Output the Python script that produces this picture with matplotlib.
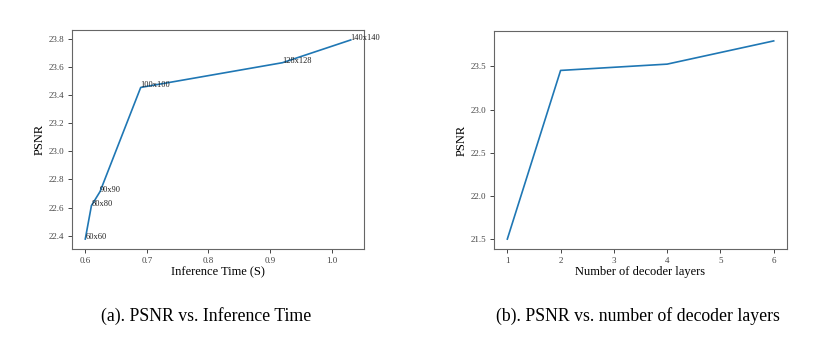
import matplotlib.pyplot as plt

plt.rcParams['font.family'] = ['Liberation Serif', 'DejaVu Serif']

# (a) PSNR vs inference time
inf_time = [0.600, 0.610, 0.624, 0.690, 0.920, 1.031]
psnr_time = [22.376, 22.614, 22.714, 23.455, 23.631, 23.793]
res_labels = ['60x60', '80x80', '90x90', '100x100', '128x128', '140x140']

# (b) PSNR vs decoder layers
layers = [1, 2, 4, 6]
psnr_layers = [21.5, 23.454, 23.527, 23.796]

W, H = 831, 340
fig = plt.figure(figsize=(W / 100, H / 100), dpi=100)

ax1 = fig.add_axes([72 / W, 91 / H, 292 / W, 219 / H])
ax2 = fig.add_axes([494 / W, 91 / H, 293 / W, 218 / H])

ax1.plot(inf_time, psnr_time, color='#1f77b4', lw=1.2)
for x, y, s in zip(inf_time, psnr_time, res_labels):
    ax1.text(x, y, s, fontsize=6, color='#222222', clip_on=False)
ax1.set_xticks([0.6, 0.7, 0.8, 0.9, 1.0])
ax1.set_yticks([22.4, 22.6, 22.8, 23.0, 23.2, 23.4, 23.6, 23.8])
ax1.set_xlabel('Inference Time (S)', fontsize=9, labelpad=1)
ax1.set_ylabel('PSNR', fontsize=9, labelpad=2)

ax2.plot(layers, psnr_layers, color='#1f77b4', lw=1.2)
ax2.set_xticks([1, 2, 3, 4, 5, 6])
ax2.set_yticks([21.5, 22.0, 22.5, 23.0, 23.5])
ax2.set_xlabel('Number of decoder layers', fontsize=9, labelpad=1)
ax2.set_ylabel('PSNR', fontsize=9, labelpad=2)

for ax in (ax1, ax2):
    for sp in ax.spines.values():
        sp.set_color('#666666')
    ax.tick_params(labelsize=6.5, colors='#444444', length=3, width=0.7, pad=2.5)

fig.text(206 / W, 1 - 316 / H, '(a). PSNR vs. Inference Time', fontsize=12.8,
         ha='center', va='center')
fig.text(638 / W, 1 - 316 / H, '(b). PSNR vs. number of decoder layers', fontsize=12.8,
         ha='center', va='center')

fig.savefig('out.png', dpi=100)
